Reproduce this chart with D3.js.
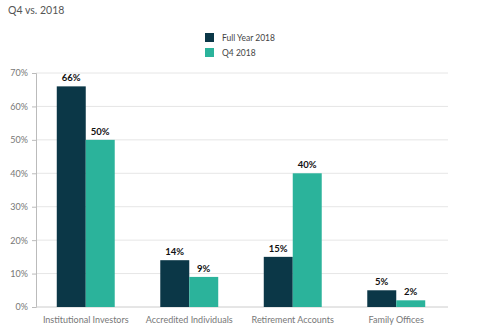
<!DOCTYPE html>
<html><head><meta charset="utf-8">
<script src="https://cdn.jsdelivr.net/npm/d3@7"></script>
<style>body{margin:0;background:#fff;} svg{display:block;font-family:Lato,"Open Sans",sans-serif;}</style>
</head><body><svg id="c" width="500" height="335"></svg>
<script>
const categories = ["Institutional Investors","Accredited Individuals","Retirement Accounts","Family Offices"];
const seriesNames = ["Full Year 2018","Q4 2018"];
const fullYear = [66,14,15,5];
const q4 = [50,9,40,2];
const yTicks = [0,10,20,30,40,50,60,70];
const colors = ["#0b3747","#2bb39b"];

const svg = d3.select("#c");
const x = d3.scaleBand().domain(categories).range([34,448]).paddingInner(0.44).paddingOuter(0.22);
const xs = d3.scaleBand().domain(seriesNames).range([0,x.bandwidth()]);
const y = d3.scaleLinear().domain([0,70]).range([307,73]);

svg.append("text").attr("x",8).attr("y",14).attr("font-size",10.5).attr("fill","#555").text("Q4 vs. 2018");

// grid
svg.append("g").selectAll("line").data(yTicks.filter(d=>d>0)).join("line")
  .attr("x1",36).attr("x2",448).attr("y1",d=>y(d)).attr("y2",d=>y(d))
  .attr("stroke","#e6e6e6").attr("stroke-width",1);

const yAxis = svg.append("g").attr("transform","translate(36,0)")
  .call(d3.axisLeft(y).tickValues(yTicks).tickFormat(d=>d+"%").tickSize(4).tickPadding(4));
yAxis.select(".domain").attr("stroke","#bbb");
yAxis.selectAll(".tick line").attr("stroke","#bbb");
yAxis.selectAll("text").attr("fill","#777").attr("font-size",9).attr("font-family","Lato,'Open Sans',sans-serif");

// baseline
svg.append("line").attr("x1",36).attr("x2",448).attr("y1",y(0)).attr("y2",y(0)).attr("stroke","#ccc");

const data = categories.map((c,i)=>({c, vals:[fullYear[i],q4[i]]}));
const g = svg.append("g").selectAll("g").data(data).join("g").attr("transform",d=>`translate(${x(d.c)},0)`);
g.selectAll("rect").data(d=>d.vals.map((v,j)=>({v,s:seriesNames[j],j}))).join("rect")
  .attr("x",d=>xs(d.s)).attr("width",xs.bandwidth()).attr("y",d=>y(d.v)).attr("height",d=>y(0)-y(d.v))
  .attr("fill",d=>colors[d.j]);
g.selectAll("text.v").data(d=>d.vals.map((v,j)=>({v,s:seriesNames[j],j}))).join("text").attr("class","v")
  .attr("x",d=>xs(d.s)+xs.bandwidth()/2).attr("y",d=>y(d.v)-5).attr("text-anchor","middle")
  .attr("font-size",9.5).attr("font-weight","bold").attr("fill","#111").text(d=>d.v+"%");

// x labels
svg.append("g").selectAll("text").data(categories).join("text")
  .attr("x",d=>x(d)+x.bandwidth()/2).attr("y",323).attr("text-anchor","middle")
  .attr("font-size",9).attr("fill","#777").text(d=>d);

// legend
const lg = svg.append("g").selectAll("g").data(seriesNames).join("g")
  .attr("transform",(d,i)=>`translate(205,${33+i*15})`);
lg.append("rect").attr("width",9).attr("height",9).attr("fill",(d,i)=>colors[i]);
lg.append("text").attr("x",17).attr("y",8).attr("font-size",8.5).attr("fill","#444").text(d=>d);
</script></body></html>
